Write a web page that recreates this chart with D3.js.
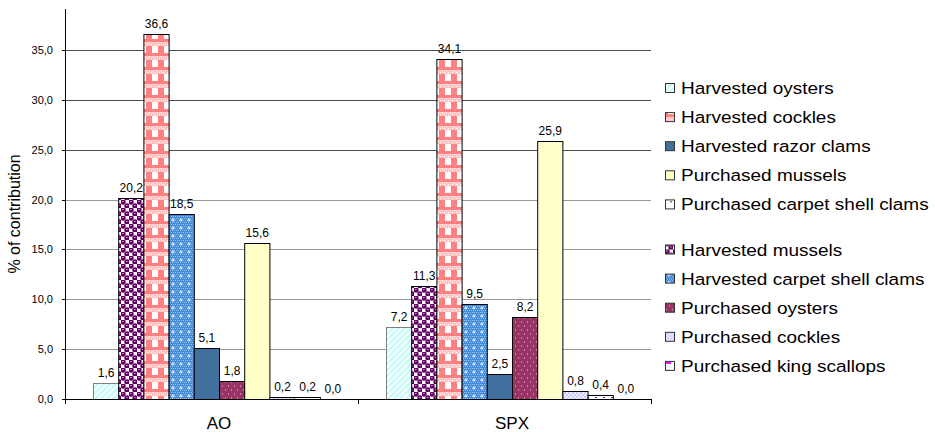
<!DOCTYPE html>
<html>
<head>
<meta charset="utf-8">
<script src="https://cdn.jsdelivr.net/npm/d3@7"></script>
<style>
  html, body { margin: 0; padding: 0; background: #fff; }
  svg { display: block; font-family: "Liberation Sans", Arial, sans-serif; }
</style>
</head>
<body>
<svg id="chart" width="935" height="432"></svg>
<script>
// ---------------- data ----------------
const categories = ["AO", "SPX"];
const seriesNames = [
  "Harvested oysters",
  "Harvested mussels",
  "Harvested cockles",
  "Harvested carpet shell clams",
  "Harvested razor clams",
  "Purchased oysters",
  "Purchased mussels",
  "Purchased cockles",
  "Purchased carpet shell clams",
  "Purchased king scallops"
];
const valuesAO  = [1.6, 20.2, 36.6, 18.5, 5.1, 1.8, 15.6, 0.2, 0.2, 0.0];
const valuesSPX = [7.2, 11.3, 34.1, 9.5, 2.5, 8.2, 25.9, 0.8, 0.4, 0.0];
const yTicks = [0, 5, 10, 15, 20, 25, 30, 35];
const yMax = 39.1;
const legendOrder = [
  "Harvested oysters",
  "Harvested cockles",
  "Harvested razor clams",
  "Purchased mussels",
  "Purchased carpet shell clams",
  "Harvested mussels",
  "Harvested carpet shell clams",
  "Purchased oysters",
  "Purchased cockles",
  "Purchased king scallops"
];
const yTitle = "% of contribution";

const valuesByCat = { AO: valuesAO, SPX: valuesSPX };

// ---------------- setup ----------------
const svg = d3.select("#chart");
const plot = { left: 65, right: 651, top: 9, bottom: 399 };

const x0 = d3.scaleBand().domain(categories).range([plot.left, plot.right]).paddingInner(0).paddingOuter(0);
const x1 = d3.scaleBand().domain(seriesNames).range([28, x0.bandwidth() - 13]).padding(0);
const y = d3.scaleLinear().domain([0, yMax]).range([plot.bottom, plot.top]);

// ---------------- patterns ----------------
const defs = svg.append("defs");
function pat(id, w, h, build) {
  const p = defs.append("pattern").attr("id", id).attr("patternUnits", "userSpaceOnUse")
    .attr("width", w).attr("height", h);
  build(p);
}
// Harvested oysters: light cyan with white diagonal stripes
pat("p0", 6, 6, p => {
  p.append("rect").attr("width", 6).attr("height", 6).attr("fill", "#c8fafa");
  p.append("path").attr("d", "M-1,7 L7,-1 M-1,1 L1,-1 M5,7 L7,5").attr("stroke", "#ffffff").attr("stroke-width", 1.6);
});
// Harvested mussels: purple spheres checker
pat("p1", 8, 8, p => {
  p.append("rect").attr("width", 8).attr("height", 8).attr("fill", "#ffffff");
  p.append("rect").attr("x", 0).attr("y", 0).attr("width", 4).attr("height", 4).attr("fill", "#660066");
  p.append("rect").attr("x", 4).attr("y", 4).attr("width", 4).attr("height", 4).attr("fill", "#660066");
  p.append("circle").attr("cx", 2).attr("cy", 2).attr("r", 2.7).attr("fill", "#660066");
  p.append("circle").attr("cx", 6).attr("cy", 6).attr("r", 2.7).attr("fill", "#660066");
  p.append("rect").attr("x", 1).attr("y", 1).attr("width", 1.6).attr("height", 0.9).attr("fill", "#c9a0c9");
  p.append("rect").attr("x", 5).attr("y", 5).attr("width", 1.6).attr("height", 0.9).attr("fill", "#c9a0c9");
});
// Harvested cockles: salmon gingham
pat("p2", 12, 14, p => {
  p.append("rect").attr("width", 12).attr("height", 14).attr("fill", "#ff8080");
  p.append("rect").attr("x", 0).attr("y", 0).attr("width", 12).attr("height", 4).attr("fill", "#ffc4c4");
  p.append("rect").attr("x", 3).attr("y", 4).attr("width", 6).attr("height", 7).attr("fill", "#ffffff");
  for (let i = 0; i < 12; i += 2) {
    p.append("rect").attr("x", i).attr("y", (i % 4 === 0) ? 0 : 2).attr("width", 1).attr("height", 1).attr("fill", "#ffffff");
  }
});
// Harvested carpet shell clams: blue fine check with white sparkles
pat("p3", 8, 8, p => {
  p.append("rect").attr("width", 8).attr("height", 8).attr("fill", "#3f88dc");
  for (let i = 0; i < 8; i += 2) for (let j = 0; j < 8; j += 2) {
    p.append("rect").attr("x", i + ((j / 2) % 2)).attr("y", j).attr("width", 1).attr("height", 1).attr("fill", "#9cc8f4");
  }
  p.append("path").attr("d", "M4,2.5 V5.5 M2.5,4 H5.5").attr("stroke", "#ffffff").attr("stroke-width", 1);
});
// Harvested razor clams: solid
pat("p4", 4, 4, p => {
  p.append("rect").attr("width", 4).attr("height", 4).attr("fill", "#41709f");
});
// Purchased oysters: maroon with white dots
pat("p5", 6, 8, p => {
  p.append("rect").attr("width", 6).attr("height", 8).attr("fill", "#993366");
  p.append("rect").attr("x", 1).attr("y", 1.5).attr("width", 1).attr("height", 1).attr("fill", "#f0d0e0");
  p.append("rect").attr("x", 4).attr("y", 5.5).attr("width", 1).attr("height", 1).attr("fill", "#f0d0e0");
});
// Purchased mussels: pale yellow with faint dots
pat("p6", 8, 8, p => {
  p.append("rect").attr("width", 8).attr("height", 8).attr("fill", "#ffffc8");
  p.append("rect").attr("x", 2).attr("y", 2).attr("width", 1.2).attr("height", 1.2).attr("fill", "#ffffff");
  p.append("rect").attr("x", 6).attr("y", 6).attr("width", 1.2).attr("height", 1.2).attr("fill", "#ffffff");
});
// Purchased cockles: lavender checker
pat("p7", 4, 4, p => {
  p.append("rect").attr("width", 4).attr("height", 4).attr("fill", "#ccccff");
  p.append("rect").attr("width", 2).attr("height", 2).attr("fill", "#ececff");
  p.append("rect").attr("x", 2).attr("y", 2).attr("width", 2).attr("height", 2).attr("fill", "#ececff");
});
// Purchased carpet shell clams: white with small blue dots
pat("p8", 8, 8, p => {
  p.append("rect").attr("width", 8).attr("height", 8).attr("fill", "#ffffff");
  p.append("rect").attr("x", 5).attr("y", 5).attr("width", 2).attr("height", 1).attr("fill", "#333399");
});
// Purchased king scallops: white with magenta dash
pat("p9", 8, 8, p => {
  p.append("rect").attr("width", 8).attr("height", 8).attr("fill", "#ffffff");
  p.append("rect").attr("x", 1).attr("y", 4).attr("width", 5).attr("height", 2).attr("fill", "#ff00ff");
});

const fillOf = name => `url(#p${seriesNames.indexOf(name)})`;
const strokeOf = name => name === "Harvested oysters" ? "#7f7f7f" : "#000000";

// ---------------- gridlines ----------------
svg.append("g").selectAll("line")
  .data(yTicks.filter(t => t > 0))
  .join("line")
  .attr("x1", plot.left).attr("x2", plot.right)
  .attr("y1", d => Math.round(y(d)) + 0.5).attr("y2", d => Math.round(y(d)) + 0.5)
  .attr("stroke", d => d >= 25 ? "#4d4d4d" : "#9a9a9a")
  .attr("stroke-width", 1);

// ---------------- bars ----------------
const gCat = svg.append("g").selectAll("g")
  .data(categories)
  .join("g")
  .attr("transform", c => `translate(${x0(c)},0)`);

gCat.selectAll("rect")
  .data(c => seriesNames.map((s, i) => ({ c, s, v: valuesByCat[c][i] })))
  .join("rect")
  .attr("x", d => x1(d.s) + 0.5)
  .attr("y", d => Math.round(y(d.v)) + 0.5)
  .attr("width", x1.bandwidth())
  .attr("height", d => Math.max(0, Math.round(y(0)) - Math.round(y(d.v))))
  .attr("fill", d => fillOf(d.s))
  .attr("stroke", d => d.v > 0 ? strokeOf(d.s) : "none")
  .attr("stroke-width", 1);

gCat.selectAll("text")
  .data(c => seriesNames.map((s, i) => ({ c, s, v: valuesByCat[c][i] })))
  .join("text")
  .attr("x", d => x1(d.s) + x1.bandwidth() / 2 + 0.5)
  .attr("y", d => y(d.v) - 6)
  .attr("text-anchor", "middle")
  .attr("font-size", 12)
  .attr("fill", "#000")
  .text(d => d3.format(".1f")(d.v).replace(".", ","));

// ---------------- axes ----------------
const yAxis = svg.append("g");
yAxis.append("line")
  .attr("x1", plot.left + 0.5).attr("x2", plot.left + 0.5)
  .attr("y1", plot.top).attr("y2", plot.bottom + 4)
  .attr("stroke", "#000");
yAxis.selectAll("line.tick")
  .data(yTicks)
  .join("line").attr("class", "tick")
  .attr("x1", plot.left - 3).attr("x2", plot.left)
  .attr("y1", d => Math.round(y(d)) + 0.5).attr("y2", d => Math.round(y(d)) + 0.5)
  .attr("stroke", "#000");
yAxis.selectAll("text")
  .data(yTicks)
  .join("text")
  .attr("x", plot.left - 12)
  .attr("y", d => y(d) + 4)
  .attr("text-anchor", "end")
  .attr("font-size", 11)
  .attr("fill", "#000")
  .text(d => d3.format(".1f")(d).replace(".", ","));

const xAxis = svg.append("g");
xAxis.append("line")
  .attr("x1", plot.left).attr("x2", plot.right + 0.5)
  .attr("y1", Math.round(y(0)) + 0.5).attr("y2", Math.round(y(0)) + 0.5)
  .attr("stroke", "#000");
const boundaries = categories.map(c => x0(c)).concat([x0(categories[categories.length - 1]) + x0.bandwidth()]);
xAxis.selectAll("line.tick")
  .data(boundaries)
  .join("line").attr("class", "tick")
  .attr("x1", d => Math.round(d) + 0.5).attr("x2", d => Math.round(d) + 0.5)
  .attr("y1", Math.round(y(0))).attr("y2", Math.round(y(0)) + 5)
  .attr("stroke", "#000");
xAxis.selectAll("text")
  .data(categories)
  .join("text")
  .attr("x", c => x0(c) + x1(seriesNames[0]) + (x1.bandwidth() * seriesNames.length) / 2)
  .attr("y", 429)
  .attr("text-anchor", "middle")
  .attr("font-size", 17)
  .attr("fill", "#000")
  .text(c => c);

svg.append("text")
  .attr("transform", `translate(20,214) rotate(-90)`)
  .attr("text-anchor", "middle")
  .attr("font-size", 16)
  .attr("fill", "#000")
  .text(yTitle);

// ---------------- legend ----------------
const leg = svg.append("g").selectAll("g")
  .data(legendOrder)
  .join("g")
  .attr("transform", (d, i) => `translate(665,${88 + i * 29.1 + (i >= 5 ? 16 : 0)})`);
leg.append("rect")
  .attr("x", 0.5).attr("y", -4.5)
  .attr("width", 9).attr("height", 9)
  .attr("fill", d => fillOf(d))
  .attr("stroke", "#333");
leg.append("text")
  .attr("transform", "translate(16,6) scale(1.15,1)")
  .attr("font-size", 16.5)
  .attr("fill", "#000")
  .text(d => d);
</script>
</body>
</html>
